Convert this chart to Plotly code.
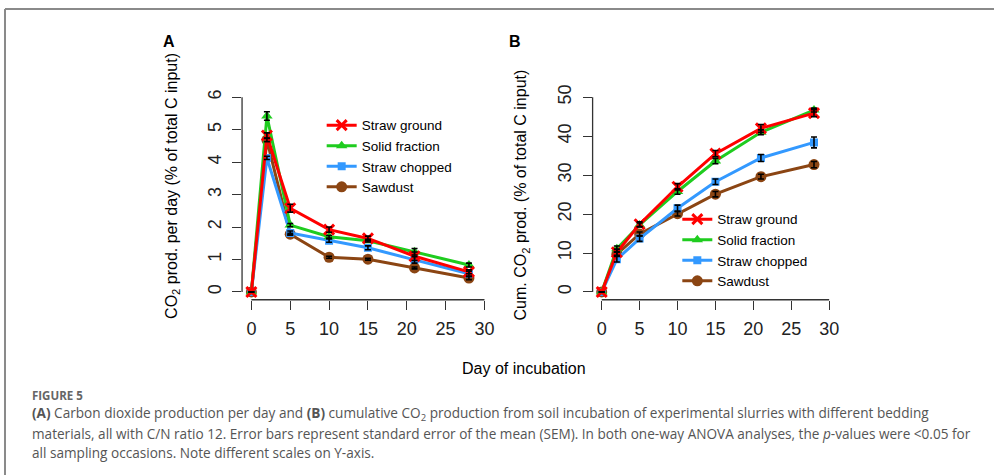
import plotly.graph_objects as go

W, H = 994, 475

days = [0, 2, 5, 10, 15, 21, 28]
series = ["Straw ground", "Solid fraction", "Straw chopped", "Sawdust"]

# Panel A: CO2 production per day (% of total C input)
a_ground = [0, 4.82, 2.58, 1.92, 1.65, 1.10, 0.62]
a_solid = [0, 5.42, 2.06, 1.70, 1.58, 1.24, 0.83]
a_chopped = [0, 4.13, 1.82, 1.58, 1.36, 0.99, 0.56]
a_sawdust = [0, 4.68, 1.78, 1.07, 1.01, 0.74, 0.43]
a_ground_se = [0, 0.08, 0.12, 0.08, 0.07, 0.13, 0.06]
a_solid_se = [0, 0.13, 0.05, 0.04, 0.04, 0.10, 0.06]
a_chopped_se = [0, 0.05, 0.06, 0.05, 0.06, 0.10, 0.08]
a_sawdust_se = [0, 0.05, 0.03, 0.03, 0.03, 0.03, 0.05]

# Panel B: cumulative CO2 production (% of total C input)
b_ground = [0, 10.2, 17.4, 27.0, 35.5, 42.0, 45.9]
b_solid = [0, 11.1, 17.2, 25.8, 33.6, 41.0, 46.7]
b_chopped = [0, 8.4, 13.7, 21.5, 28.3, 34.4, 38.4]
b_sawdust = [0, 9.7, 14.9, 20.1, 25.1, 29.6, 32.7]
b_ground_se = [0, 0.8, 0.6, 0.8, 0.8, 1.0, 0.9]
b_solid_se = [0, 0.7, 0.5, 0.7, 0.7, 0.6, 0.5]
b_chopped_se = [0, 0.7, 0.7, 0.8, 0.7, 0.9, 1.4]
b_sawdust_se = [0, 0.5, 0.5, 0.6, 0.7, 0.6, 0.8]

x_ticks = [0, 5, 10, 15, 20, 25, 30]
a_yticks = [0, 1, 2, 3, 4, 5, 6]
b_yticks = [0, 10, 20, 30, 40, 50]

colors = {"Straw ground": "#FF0000", "Solid fraction": "#1FCC1F",
          "Straw chopped": "#3399FF", "Sawdust": "#8B4513"}
symbols = {"Straw ground": "x-thin", "Solid fraction": "triangle-up",
           "Straw chopped": "square", "Sawdust": "circle"}
sizes = {"Straw ground": 10, "Solid fraction": 10, "Straw chopped": 8, "Sawdust": 11}

A = {"Straw ground": (a_ground, a_ground_se), "Solid fraction": (a_solid, a_solid_se),
     "Straw chopped": (a_chopped, a_chopped_se), "Sawdust": (a_sawdust, a_sawdust_se)}
B = {"Straw ground": (b_ground, b_ground_se), "Solid fraction": (b_solid, b_solid_se),
     "Straw chopped": (b_chopped, b_chopped_se), "Sawdust": (b_sawdust, b_sawdust_se)}

FONT = "Liberation Sans, Arial, sans-serif"
fig = go.Figure()

draw_order = ["Sawdust", "Straw chopped", "Solid fraction", "Straw ground"]
for data, xa, ya, leg in [(A, "x", "y", "legend"), (B, "x2", "y2", "legend2")]:
    for name in draw_order:
        vals, se = data[name]
        c = colors[name]
        marker = dict(symbol=symbols[name], size=sizes[name], color=c)
        if name == "Straw ground":
            marker["line"] = dict(color=c, width=3)
        fig.add_trace(go.Scatter(
            x=days, y=vals, mode="lines+markers", name=name,
            line=dict(color=c, width=3), marker=marker,
            xaxis=xa, yaxis=ya, legend=leg,
            legendrank=series.index(name)))
    for name in draw_order:
        vals, se = data[name]
        fig.add_trace(go.Scatter(
            x=days, y=vals, mode="markers", showlegend=False, hoverinfo="skip",
            marker=dict(size=1, opacity=0),
            error_y=dict(type="data", array=se, visible=True, color="black",
                         thickness=1.6, width=3),
            xaxis=xa, yaxis=ya))

def px_x(p):
    return p / W

def px_y(p):
    return 1 - p / H

axis_common = dict(showgrid=False, zeroline=False, showline=False, ticks="outside",
                   ticklen=9, tickwidth=1.3, tickcolor="#333",
                   tickfont=dict(family=FONT, size=18, color="#222"))

fig.update_layout(
    width=W, height=H, margin=dict(l=0, r=0, t=0, b=0),
    paper_bgcolor="white", plot_bgcolor="white",
    showlegend=True,
    xaxis=dict(domain=[px_x(242.3), px_x(494.3)], range=[-1.2, 31.2],
               tickvals=x_ticks, anchor="y", ticklabelstandoff=4, **axis_common),
    yaxis=dict(domain=[px_y(297.9), px_y(85.3)], range=[-0.24, 6.24],
               tickvals=a_yticks, anchor="x", tickangle=-90, ticklabelstandoff=4,
               **axis_common),
    xaxis2=dict(domain=[px_x(593.2), px_x(839.1)], range=[-1.2, 31.2],
                tickvals=x_ticks, anchor="y2", ticklabelstandoff=4, **axis_common),
    yaxis2=dict(domain=[px_y(297.9), px_y(85.3)], range=[-2, 52],
                tickvals=b_yticks, anchor="x2", tickangle=-90, ticklabelstandoff=4,
                **axis_common),
    legend=dict(x=px_x(322), y=px_y(106), xanchor="left", yanchor="top",
                bgcolor="rgba(0,0,0,0)", font=dict(family=FONT, size=13.5, color="black"),
                tracegroupgap=0, itemwidth=30),
    legend2=dict(x=px_x(678), y=px_y(201), xanchor="left", yanchor="top",
                 bgcolor="rgba(0,0,0,0)", font=dict(family=FONT, size=13.5, color="black"),
                 tracegroupgap=0, itemwidth=30),
)

shapes = []
for xa, ya, yt in [("x", "y", a_yticks), ("x2", "y2", b_yticks)]:
    shapes.append(dict(type="line", xref=xa, yref=ya + " domain",
                       x0=x_ticks[0], x1=x_ticks[-1], y0=0, y1=0,
                       line=dict(color="#333", width=1.3)))
    shapes.append(dict(type="line", xref=xa + " domain", yref=ya,
                       x0=0, x1=0, y0=yt[0], y1=yt[-1],
                       line=dict(color="#333", width=1.3)))
# figure frame (top and left edges)
shapes.append(dict(type="line", xref="paper", yref="paper", x0=px_x(5), x1=1.01,
                   y0=px_y(4), y1=px_y(4), line=dict(color="#8a8a8a", width=2)))
shapes.append(dict(type="line", xref="paper", yref="paper", x0=px_x(5), x1=px_x(5),
                   y0=px_y(4), y1=-0.01, line=dict(color="#8a8a8a", width=2)))
fig.update_layout(shapes=shapes)

ann = []
def add_text(text, x, y, size, color="black", angle=0, xanchor="center", family=FONT):
    ann.append(dict(text=text, x=px_x(x), y=px_y(y), xref="paper", yref="paper",
                    xanchor=xanchor, yanchor="middle", showarrow=False, textangle=angle,
                    font=dict(family=family, size=size, color=color)))

add_text("<b>A</b>", 169, 37, 16)
add_text("<b>B</b>", 516, 37, 16)
add_text("CO<sub>2</sub> prod. per day (% of total C input)", 172, 183, 16, angle=-90)
add_text("Cum. CO<sub>2</sub> prod. (% of total C input)", 523, 192, 16, angle=-90)
add_text("Day of incubation", 525, 367, 16)

CAP = "Open Sans, Lato, sans-serif"
cap_col = "#555555"
add_text("<b>FIGURE 5</b>", 30, 395, 11.5, color="#666666", xanchor="left", family=CAP)
add_text("<b>(A)</b> Carbon dioxide production per day and <b>(B)</b> cumulative CO<sub>2</sub> production from soil incubation of experimental slurries with different bedding",
         30, 413, 13.6, color=cap_col, xanchor="left", family=CAP)
add_text("materials, all with C/N ratio 12. Error bars represent standard error of the mean (SEM). In both one-way ANOVA analyses, the <i>p</i>-values were &lt;0.05 for",
         30, 433, 13.6, color=cap_col, xanchor="left", family=CAP)
add_text("all sampling occasions. Note different scales on Y-axis.",
         30, 452.5, 13.6, color=cap_col, xanchor="left", family=CAP)
fig.update_layout(annotations=ann)

fig.write_html("out.html")
